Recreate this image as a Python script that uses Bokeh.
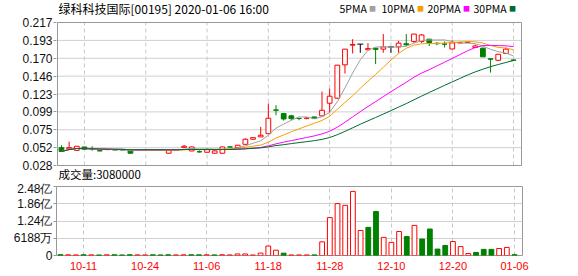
import pandas as pd
from bokeh.plotting import figure
from bokeh.layouts import column
from bokeh.models import ColumnDataSource, FixedTicker, Range1d, Label
from bokeh.embed import file_html
from bokeh.resources import INLINE

# ---------------- data ----------------
dates = ["10-08", "10-09", "10-10", "10-11", "10-14", "10-15", "10-16", "10-17", "10-18", "10-21",
         "10-22", "10-24", "10-25", "10-28", "10-30", "10-31", "11-01", "11-04", "11-05", "11-06",
         "11-07", "11-08", "11-11", "11-12", "11-13", "11-14", "11-15", "11-18", "11-19", "11-20",
         "11-21", "11-22", "11-25", "11-26", "11-27", "11-28", "11-29", "12-02", "12-03", "12-04",
         "12-05", "12-06", "12-09", "12-10", "12-11", "12-12", "12-13", "12-16", "12-17", "12-18",
         "12-19", "12-20", "12-23", "12-24", "12-27", "12-30", "12-31", "01-02", "01-03", "01-06"]

opens = [0.0516, 0.0499, 0.0480, 0.0525, 0.0500, 0.0475, 0.0490, 0.0488, 0.0487, 0.0473,
         0.0488, 0.0490, 0.0489, 0.0487, 0.0442, 0.0488, 0.0520, 0.0472, 0.0462, 0.0455,
         0.0442, 0.0442, 0.0526, 0.0516, 0.0560, 0.0627, 0.0658, 0.0701, 0.1015, 0.0966,
         0.0936, 0.0902, 0.0904, 0.0922, 0.0936, 0.1103, 0.1170, 0.1610, 0.1870, 0.1884,
         0.1810, 0.1830, 0.1818, 0.1847, 0.1848, 0.1890, 0.1920, 0.1919, 0.1950, 0.1895,
         0.1886, 0.1820, 0.1900, 0.1905, 0.1840, 0.1830, 0.1690, 0.1670, 0.1760, 0.1675]

highs = [0.0548, 0.0596, 0.0534, 0.0525, 0.0535, 0.0478, 0.0495, 0.0492, 0.0490, 0.0475,
         0.0492, 0.0493, 0.0492, 0.0490, 0.0485, 0.0492, 0.0550, 0.0530, 0.0480, 0.0505,
         0.0478, 0.0528, 0.0528, 0.0552, 0.0640, 0.0652, 0.0790, 0.1100, 0.1077, 0.0975,
         0.0950, 0.0910, 0.0915, 0.0925, 0.1257, 0.1297, 0.1610, 0.1820, 0.1950, 0.1884,
         0.1897, 0.1830, 0.2017, 0.1847, 0.1928, 0.2017, 0.2017, 0.2017, 0.1950, 0.1910,
         0.1919, 0.1935, 0.1915, 0.1920, 0.1880, 0.1840, 0.1690, 0.1755, 0.1840, 0.1680]

lows = [0.0463, 0.0499, 0.0478, 0.0492, 0.0475, 0.0470, 0.0487, 0.0483, 0.0482, 0.0440,
        0.0485, 0.0487, 0.0485, 0.0483, 0.0440, 0.0486, 0.0518, 0.0470, 0.0450, 0.0453,
        0.0440, 0.0440, 0.0522, 0.0514, 0.0558, 0.0625, 0.0656, 0.0700, 0.0945, 0.0873,
        0.0880, 0.0878, 0.0890, 0.0898, 0.0934, 0.0980, 0.1160, 0.1495, 0.1760, 0.1770,
        0.1805, 0.1620, 0.1770, 0.1770, 0.1770, 0.1860, 0.1900, 0.1900, 0.1860, 0.1870,
        0.1839, 0.1815, 0.1895, 0.1900, 0.1838, 0.1716, 0.1508, 0.1665, 0.1755, 0.1660]

closes = [0.0465, 0.0516, 0.0534, 0.0495, 0.0497, 0.0473, 0.0491, 0.0486, 0.0485, 0.0442,
          0.0489, 0.0490, 0.0488, 0.0486, 0.0482, 0.0489, 0.0535, 0.0525, 0.0460, 0.0490,
          0.0473, 0.0525, 0.0525, 0.0548, 0.0627, 0.0648, 0.0680, 0.0905, 0.1010, 0.0895,
          0.0900, 0.0901, 0.0905, 0.0900, 0.1010, 0.1196, 0.1606, 0.1818, 0.1880, 0.1884,
          0.1825, 0.1815, 0.1847, 0.1847, 0.1897, 0.1875, 0.2017, 0.2005, 0.1905, 0.1890,
          0.1884, 0.1900, 0.1905, 0.1910, 0.1860, 0.1716, 0.1685, 0.1750, 0.1818, 0.1670]

volumes = [3000000, 2500000, 2000000, 2800000, 2200000, 2000000, 2400000, 2600000, 2000000, 2800000,
           2200000, 2000000, 2500000, 2100000, 2600000, 2000000, 2300000, 2700000, 2400000, 2500000,
           2200000, 2600000, 2000000, 5500000, 5500000, 1800000, 8500000, 34000000, 19000000, 8500000,
           2000000, 2000000, 2000000, 2200000, 49000000, 136000000, 186000000, 180000000, 230000000, 90000000,
           101000000, 158000000, 65000000, 47000000, 86000000, 68000000, 108000000, 59000000, 95000000, 23000000,
           36000000, 50000000, 32000000, 7000000, 11000000, 22000000, 22000000, 25000000, 29000000, 3080000]

price_ticks = [0.028, 0.051625, 0.07525, 0.098875, 0.1225, 0.146125, 0.16975, 0.193375, 0.217]
price_tick_labels = ["0.028", "0.052", "0.075", "0.099", "0.123", "0.146", "0.170", "0.193", "0.217"]

vol_ticks = [0, 61880000, 123760000, 185640000, 247520000]
vol_tick_labels = ["0", "6188万", "1.24亿", "1.86亿", "2.48亿"]

date_tick_labels = ["10-11", "10-24", "11-06", "11-18", "11-28", "12-10", "12-20", "01-06"]

ma_periods = [5, 10, 20, 30]
ma_names = ["5PMA", "10PMA", "20PMA", "30PMA"]
ma_colors = ["#a0a0a0", "#f5a000", "#ff00ff", "#006b2e"]

title_text = "绿科科技国际[00195] 2020-01-06 16:00"
volume_text = "成交量:3080000"

# ---------------- derived ----------------
RED, GREEN, BLACK = "#ff0000", "#008000", "#000000"
n = len(dates)
xs = list(range(n))

candle_color = [RED if c > o else (GREEN if c < o else BLACK) for o, c in zip(opens, closes)]
candle_fill = ["white" if col == RED else col for col in candle_color]

vol_color, vol_fill = [], []
for i in xs:
    ref = closes[i - 1] if i > 0 else opens[i]
    up = closes[i] >= ref
    vol_color.append(RED if up else GREEN)
    vol_fill.append("white" if up else GREEN)

df = pd.DataFrame(dict(x=xs, open=opens, high=highs, low=lows, close=closes, volume=volumes))
df["top"] = df[["open", "close"]].max(axis=1)
df["bottom"] = df[["open", "close"]].min(axis=1)
df["color"] = candle_color
df["fill"] = candle_fill
df["vcolor"] = vol_color
df["vfill"] = vol_fill
for per in ma_periods:
    df[f"ma{per}"] = df["close"].rolling(per, min_periods=1).mean()

src = ColumnDataSource(df)
body_src = ColumnDataSource(df[df["open"] != df["close"]])
doji_src = ColumnDataSource(df[df["open"] == df["close"]])

label_idx = [dates.index(d) for d in date_tick_labels]

AX_FONT = "Liberation Sans"
CJK = "Noto Sans CJK SC"
GRID = "#d0d0d0"
FRAME = "#999999"

# layout geometry (pixels)
W = 578
PLOT_L, PLOT_R = 56, 522           # visible panel box, left/right
MAIN_H = 181                        # height of the upper canvas
MAIN_TOP, MAIN_BOT = 22, 165        # price box top/bottom inside the upper canvas
VOL_H = 276 - MAIN_H
VOL_FRAME_TOP, VOL_FRAME_H = 186, 69
VOL_TOP_B = VOL_FRAME_TOP - MAIN_H

x_lo, x_hi = -0.52, 60.04
ux = (PLOT_R - PLOT_L) / (x_hi - x_lo)          # px per bar

# ---------------- main price panel ----------------
# frame spans the whole upper canvas height so the header texts can live inside it
sy = (price_ticks[-1] - price_ticks[0]) / (MAIN_BOT - MAIN_TOP)
y_top = price_ticks[-1] + MAIN_TOP * sy
y_bot = price_ticks[0] - (MAIN_H - MAIN_BOT) * sy
mx_lo = x_lo - 1 / ux
mx_hi = x_hi + 1 / ux

p = figure(width=W, height=MAIN_H, x_range=Range1d(mx_lo, mx_hi), y_range=Range1d(y_bot, y_top),
           output_backend="svg", toolbar_location=None, x_axis_location=None,
           min_border_top=0, min_border_bottom=0, min_border_left=PLOT_L - 1, min_border_right=W - PLOT_R - 1)
p.outline_line_color = None
p.background_fill_color = "white"
p.border_fill_color = "white"
p.xgrid.visible = False
p.ygrid.visible = False

ya = p.yaxis[0]
ya.ticker = FixedTicker(ticks=price_ticks)
ya.major_label_overrides = {t: l for t, l in zip(price_ticks, price_tick_labels)}
ya.axis_line_color = None
ya.major_tick_line_color = FRAME
ya.major_tick_out = 3
ya.major_tick_in = 0
ya.minor_tick_line_color = None
ya.major_label_standoff = 1
ya.major_label_text_font = AX_FONT
ya.major_label_text_font_size = "12px"
ya.major_label_text_color = "#111111"

# grid lines limited to the price box
p.segment(x0=[x_lo] * len(price_ticks), y0=price_ticks, x1=[x_hi] * len(price_ticks), y1=price_ticks,
          line_color=GRID, line_width=1)
p.segment(x0=label_idx, y0=[price_ticks[0]] * len(label_idx), x1=label_idx, y1=[price_ticks[-1]] * len(label_idx),
          line_color="#c8c8c8", line_width=1, line_dash="4 3")
p.quad(left=[x_lo], right=[x_hi], bottom=[price_ticks[0]], top=[price_ticks[-1]],
       fill_color=None, line_color=FRAME, line_width=1)

p.segment(x0="x", y0="low", x1="x", y1="high", color="color", line_width=1, source=src)
p.vbar(x="x", top="top", bottom="bottom", width=0.62, fill_color="fill",
       line_color="color", line_width=1, source=body_src)
p.scatter(x="x", y="close", marker="dash", size=6, line_color="color", line_width=1, source=doji_src)

for per, col in zip(ma_periods, ma_colors):
    p.line(x="x", y=f"ma{per}", color=col, line_width=1, source=src)

fl = PLOT_L - 1   # frame left in canvas px


def scr(cx, cy):
    return cx - fl, MAIN_H - cy


tx, ty = scr(57, 8)
p.add_layout(Label(x=tx, y=ty, x_units="screen", y_units="screen", text=title_text,
                   text_font=CJK, text_font_size="12px", text_color="#000000",
                   text_baseline="middle", text_align="left"))

legend_cx = [338, 380, 426, 472]
for name, col, cx in zip(ma_names, ma_colors, legend_cx):
    lx, ly = scr(cx, 7.5)
    p.add_layout(Label(x=lx, y=ly, x_units="screen", y_units="screen", text=name,
                       text_font=CJK, text_font_size="10.5px", text_color="#000000",
                       text_baseline="middle", text_align="left"))
    p.add_layout(Label(x=lx + 6.1 * len(name) + 5, y=ly, x_units="screen", y_units="screen",
                       text="■", text_font=CJK, text_font_size="7px", text_color=col,
                       text_baseline="middle", text_align="left"))

vx_, vy_ = scr(57, 173.5)
p.add_layout(Label(x=vx_, y=vy_, x_units="screen", y_units="screen", text=volume_text,
                   text_font=CJK, text_font_size="11.5px", text_color="#000000",
                   text_baseline="middle", text_align="left"))

# ---------------- volume panel ----------------
v = figure(width=W, height=VOL_H, x_range=Range1d(x_lo, x_hi),
           y_range=Range1d(vol_ticks[0], vol_ticks[-1]),
           output_backend="svg", toolbar_location=None,
           min_border_top=VOL_TOP_B, min_border_bottom=VOL_H - VOL_TOP_B - VOL_FRAME_H,
           min_border_left=PLOT_L, min_border_right=W - PLOT_R)
v.outline_line_color = FRAME
v.background_fill_color = "white"
v.border_fill_color = "white"

v.xgrid.ticker = FixedTicker(ticks=label_idx)
v.xgrid.grid_line_color = "#c8c8c8"
v.xgrid.grid_line_dash = "4 3"
v.ygrid.ticker = FixedTicker(ticks=vol_ticks)
v.ygrid.grid_line_color = GRID

vy = v.yaxis[0]
vy.ticker = FixedTicker(ticks=vol_ticks)
vy.major_label_overrides = {t: l for t, l in zip(vol_ticks, vol_tick_labels)}
vy.axis_line_color = None
vy.major_tick_line_color = FRAME
vy.major_tick_out = 3
vy.major_tick_in = 0
vy.minor_tick_line_color = None
vy.major_label_standoff = 1
vy.major_label_text_font = AX_FONT
vy.major_label_text_font_size = "12px"
vy.major_label_text_color = "#111111"

vx = v.xaxis[0]
vx.ticker = FixedTicker(ticks=label_idx)
vx.major_label_overrides = {i: d for i, d in zip(label_idx, date_tick_labels)}
vx.axis_line_color = None
vx.major_tick_line_color = None
vx.minor_tick_line_color = None
vx.major_tick_out = 0
vx.major_label_standoff = 6
vx.major_label_text_font = AX_FONT
vx.major_label_text_font_size = "11px"
vx.major_label_text_color = "#ff0000"

v.vbar(x="x", top="volume", bottom=0, width=0.62, fill_color="vfill",
       line_color="vcolor", line_width=1, source=src)

layout = column(p, v, spacing=0)
open("out.html", "w").write(file_html(layout, INLINE))
